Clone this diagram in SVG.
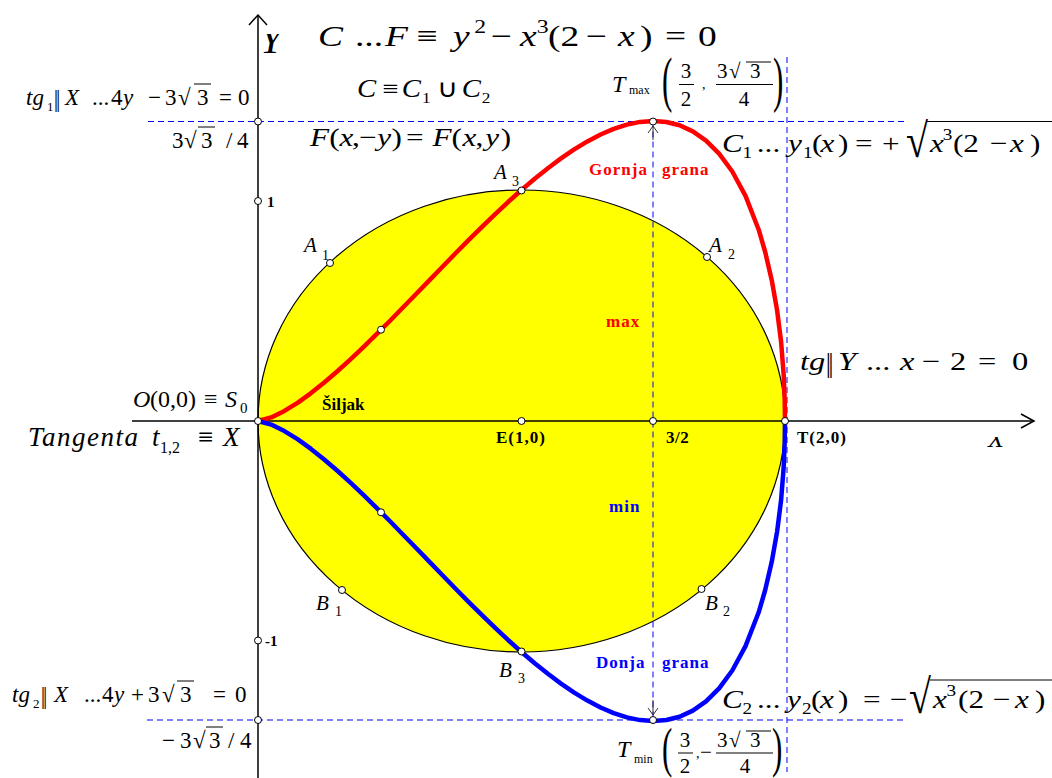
<svg xmlns="http://www.w3.org/2000/svg" width="1052" height="778" viewBox="0 0 1052 778">
<defs>
<style>
.s{font-family:"Liberation Serif","Times New Roman",serif;fill:#000}
.i{font-style:italic}
.b{font-family:"Liberation Serif","Times New Roman",serif;font-weight:bold}
.dash{stroke:#0000ff;stroke-width:1;stroke-dasharray:6 4;fill:none}
.dot{fill:#fff;stroke:#000;stroke-width:1}
.ax{stroke:#000;stroke-width:1.5;fill:none}
.vin{stroke:#000;stroke-width:1}
.arr{stroke:#333;stroke-width:1;fill:none}
</style>
<clipPath id="cy"><rect x="255" y="34" width="45" height="24"/></clipPath>
<clipPath id="cx"><rect x="980" y="437" width="50" height="10"/></clipPath>
</defs>
<rect width="1052" height="778" fill="#fff"/>

<g id="circle">
<ellipse cx="521.5" cy="421" rx="263.5" ry="231" fill="#ffff00" stroke="#000" stroke-width="1.2"/>
</g>

<g id="connectors">
<line class="dash" x1="148" y1="121.5" x2="907" y2="121.5"/>
<line class="dash" x1="147" y1="720" x2="907" y2="720"/>
<line class="dash" x1="653" y1="121.5" x2="653" y2="720"/>
<line class="dash" x1="787" y1="57" x2="787" y2="772"/>
<polyline class="arr" points="648,133 653,126 658,133"/>
<line class="arr" x1="653" y1="126" x2="653" y2="140"/>
<polyline class="arr" points="648,708 653,715 658,708"/>
<line class="arr" x1="653" y1="700" x2="653" y2="715"/>
</g>

<g id="axes">
<line class="ax" x1="132" y1="421" x2="1034" y2="421"/>
<polyline class="ax" points="1021,414 1034,421 1021,428"/>
<line class="ax" x1="258" y1="16" x2="258" y2="778"/>
<polyline class="ax" points="249,25 258,15 267,25"/>
<text class="s i" x="260" y="53" font-size="40" clip-path="url(#cy)">Y</text>
<text class="s i" x="988" y="447" font-size="26" clip-path="url(#cx)">X</text>
</g>

<g id="curve-upper">
<polyline fill="none" stroke="#ff0000" stroke-width="4.5" stroke-linejoin="round" points="258,421 271.2,417.4 284.4,410.9 297.5,402.8 310.7,393.3 323.9,382.8 337.1,371.5 350.2,359.6 363.4,347.1 376.6,334.2 389.8,321 402.9,307.5 416.1,294 429.3,280.4 442.5,266.8 455.6,253.3 468.8,239.9 482,226.9 495.2,214.1 508.3,201.8 521.5,190 534.7,178.8 547.9,168.2 561,158.4 574.2,149.4 587.4,141.4 600.6,134.5 613.7,128.9 626.9,124.6 640.1,121.9 653.3,120.9 666.4,122 679.6,125.3 692.8,131.4 706,140.6 719.1,153.6 732.3,171.5 745.5,195.9 758.7,229.7 765.2,252 771.8,280.4 777.1,310.4 781.1,341.9 783.7,375 784.7,400.4 785,421"/>
</g>
<g id="curve-lower">
<polyline fill="none" stroke="#0000ff" stroke-width="4.5" stroke-linejoin="round" points="258,421 271.2,424.6 284.4,431.1 297.5,439.2 310.7,448.7 323.9,459.2 337.1,470.5 350.2,482.4 363.4,494.9 376.6,507.8 389.8,521 402.9,534.5 416.1,548 429.3,561.6 442.5,575.2 455.6,588.7 468.8,602.1 482,615.1 495.2,627.9 508.3,640.2 521.5,652 534.7,663.2 547.9,673.8 561,683.6 574.2,692.6 587.4,700.6 600.6,707.5 613.7,713.1 626.9,717.4 640.1,720.1 653.3,721.1 666.4,720 679.6,716.7 692.8,710.6 706,701.4 719.1,688.4 732.3,670.5 745.5,646.1 758.7,612.3 765.2,590 771.8,561.6 777.1,531.6 781.1,500.1 783.7,467 784.7,441.6 785,421"/>
</g>

<g id="points">
<circle class="dot" cx="258" cy="121.5" r="3.5"/>
<circle class="dot" cx="258" cy="201" r="3.5"/>
<circle class="dot" cx="258" cy="640.5" r="3.5"/>
<circle class="dot" cx="258" cy="720" r="3.5"/>
<circle class="dot" cx="258" cy="421" r="3.5"/>
<circle class="dot" cx="521.5" cy="421" r="3.5"/>
<circle class="dot" cx="653" cy="421" r="3.5"/>
<circle class="dot" cx="785" cy="421" r="3.5"/>
<circle class="dot" cx="653" cy="121.5" r="3.5"/>
<circle class="dot" cx="653" cy="720" r="3.5"/>
<circle class="dot" cx="381" cy="329.7" r="3.5"/>
<circle class="dot" cx="381" cy="512.3" r="3.5"/>
<circle class="dot" cx="330" cy="263" r="3.5"/>
<circle class="dot" cx="707" cy="257" r="3.5"/>
<circle class="dot" cx="521.5" cy="190.5" r="3.5"/>
<circle class="dot" cx="342" cy="590" r="3.5"/>
<circle class="dot" cx="701.5" cy="589" r="3.5"/>
<circle class="dot" cx="521.5" cy="651.5" r="3.5"/>
</g>

<g id="title">
<text class="s" font-size="30" transform="translate(318,46) scale(1.25,1)"><tspan class="i" x="0" y="0">C</tspan><tspan x="29.6">...</tspan><tspan class="i" x="53.6">F</tspan><tspan x="79">≡</tspan><tspan class="i" x="108">y</tspan><tspan x="125" y="-13" font-size="19">2</tspan><tspan x="138.4" y="0">−</tspan><tspan class="i" x="161.6">x</tspan><tspan x="175" y="-13" font-size="19">3</tspan><tspan x="184" y="0">(2</tspan><tspan x="214.4">−</tspan><tspan class="i" x="240">x</tspan><tspan x="257.6">)</tspan><tspan x="277.6">=</tspan><tspan x="304">0</tspan></text>
</g>

<g id="union">
<text class="s" font-size="25" transform="translate(357,97) scale(1.15,1)"><tspan class="i" x="0" y="0">C</tspan><tspan x="22">≡</tspan><tspan class="i" x="39">C</tspan><tspan x="56.5" y="6" font-size="15">1</tspan><tspan x="70" y="0">∪</tspan><tspan class="i" x="91">C</tspan><tspan x="108.5" y="6" font-size="15">2</tspan></text>
</g>

<g id="symmetry">
<text class="s" font-size="26" transform="translate(310,146) scale(1.2,1)"><tspan class="i" x="0" y="0">F</tspan><tspan x="16">(</tspan><tspan class="i" x="24.5">x</tspan><tspan x="35">,</tspan><tspan x="41">−</tspan><tspan class="i" x="56">y</tspan><tspan x="68">)</tspan><tspan x="80">=</tspan><tspan class="i" x="102">F</tspan><tspan x="118">(</tspan><tspan class="i" x="127">x</tspan><tspan x="138">,</tspan><tspan class="i" x="146">y</tspan><tspan x="159">)</tspan></text>
</g>

<g id="tg1">
<text class="s" font-size="23" y="105"><tspan class="i" x="26">tg</tspan><tspan x="47" y="111" font-size="13">1</tspan><tspan class="i" x="65" y="105">X</tspan><tspan x="92">...</tspan><tspan x="111">4</tspan><tspan class="i" x="123">y</tspan><tspan x="148">−</tspan><tspan x="165">3</tspan><tspan x="178">√</tspan><tspan x="197">3</tspan><tspan x="219">=</tspan><tspan x="238">0</tspan></text>
<text class="s" font-size="22" transform="translate(54,112) scale(1,1.4)">‖</text>
<line class="vin" x1="194" y1="84" x2="211" y2="84"/>
<text class="s" font-size="23" y="148"><tspan x="172">3</tspan><tspan x="184">√</tspan><tspan x="201">3</tspan><tspan x="226">/</tspan><tspan x="237">4</tspan></text>
<line class="vin" x1="198" y1="127" x2="215" y2="127"/>
</g>

<g id="tg2">
<text class="s" font-size="23" y="702"><tspan class="i" x="12">tg</tspan><tspan x="33" y="708" font-size="13">2</tspan><tspan class="i" x="54" y="702">X</tspan><tspan x="84">...</tspan><tspan x="102">4</tspan><tspan class="i" x="114">y</tspan><tspan x="131">+</tspan><tspan x="148">3</tspan><tspan x="162">√</tspan><tspan x="180">3</tspan><tspan x="213">=</tspan><tspan x="235">0</tspan></text>
<text class="s" font-size="22" transform="translate(41,709) scale(1,1.4)">‖</text>
<line class="vin" x1="177" y1="681" x2="194" y2="681"/>
<text class="s" font-size="23" y="748"><tspan x="162">−</tspan><tspan x="180">3</tspan><tspan x="193">√</tspan><tspan x="209">3</tspan><tspan x="228">/</tspan><tspan x="240">4</tspan></text>
<line class="vin" x1="206" y1="727" x2="223" y2="727"/>
</g>

<g id="ticks">
<text class="b" x="267" y="207" font-size="15">1</text>
<text class="b" x="265" y="646" font-size="15">-1</text>
</g>

<g id="origin">
<text class="s" font-size="24" y="407"><tspan class="i" x="133">O</tspan><tspan x="150">(0,0)</tspan><tspan x="204">≡</tspan><tspan class="i" x="225">S</tspan><tspan x="240" y="413" font-size="15">0</tspan></text>
<text class="b" x="322" y="410" font-size="17">Šiljak</text>
</g>

<g id="tangent">
<text class="s i" font-size="27" y="446"><tspan x="28" textLength="110">Tangenta</tspan><tspan x="152">t</tspan><tspan x="160" y="453" font-size="16" font-style="normal">1,2</tspan><tspan x="198" y="446" font-style="normal">≡</tspan><tspan x="223">X</tspan></text>
</g>

<g id="xlabels">
<text class="b" x="496" y="443" font-size="17" letter-spacing="1">E(1,0)</text>
<text class="b" x="666" y="443" font-size="17" letter-spacing="0.5">3/2</text>
<text class="b" x="797" y="443" font-size="17" letter-spacing="1">T(2,0)</text>
</g>

<g id="A-points">
<text class="s i" font-size="21" y="252"><tspan x="304">A</tspan><tspan x="322" y="260" font-size="14" font-style="normal">1</tspan></text>
<text class="s i" font-size="21" y="179"><tspan x="494">A</tspan><tspan x="512" y="186" font-size="14" font-style="normal">3</tspan></text>
<text class="s i" font-size="21" y="252"><tspan x="709">A</tspan><tspan x="728" y="259" font-size="14" font-style="normal">2</tspan></text>
</g>

<g id="B-points">
<text class="s i" font-size="21" y="610"><tspan x="316">B</tspan><tspan x="335" y="616" font-size="14" font-style="normal">1</tspan></text>
<text class="s i" font-size="21" y="610"><tspan x="705">B</tspan><tspan x="723" y="616" font-size="14" font-style="normal">2</tspan></text>
<text class="s i" font-size="21" y="677"><tspan x="499">B</tspan><tspan x="518" y="683" font-size="14" font-style="normal">3</tspan></text>
</g>

<g id="branch-labels">
<text class="b" font-size="17" y="175" fill="#ff0000" letter-spacing="1"><tspan x="589">Gornja</tspan> <tspan x="662">grana</tspan></text>
<text class="b" x="606" y="327" font-size="17" fill="#ff0000" letter-spacing="1">max</text>
<text class="b" x="609" y="512" font-size="17" fill="#0000ff" letter-spacing="1">min</text>
<text class="b" font-size="17" y="668" fill="#0000ff" letter-spacing="1"><tspan x="596">Donja</tspan> <tspan x="662">grana</tspan></text>
</g>

<g id="tmax">
<text class="s i" x="612" y="92" font-size="24">T</text>
<text class="s" x="629" y="94" font-size="12">max</text>
<text class="s" font-size="62" transform="translate(662,100) scale(0.5,1)">(</text>
<text class="s" x="686" y="78" font-size="21" text-anchor="middle">3</text>
<line class="vin" x1="679" y1="84.5" x2="694" y2="84.5"/>
<text class="s" x="686" y="106" font-size="21" text-anchor="middle">2</text>
<text class="s" x="702" y="89" font-size="14">,</text>
<text class="s" font-size="21" y="78"><tspan x="717">3</tspan><tspan x="729">√</tspan><tspan x="750">3</tspan></text>
<line class="vin" x1="746" y1="62" x2="771" y2="62"/>
<line class="vin" x1="716" y1="84.5" x2="773" y2="84.5"/>
<text class="s" x="744" y="106" font-size="21" text-anchor="middle">4</text>
<text class="s" font-size="62" transform="translate(773,100) scale(0.5,1)">)</text>
</g>

<g id="tmin">
<text class="s i" x="617" y="757" font-size="24">T</text>
<text class="s" x="634" y="763" font-size="12">min</text>
<text class="s" font-size="62" transform="translate(662,766) scale(0.5,0.9)">(</text>
<text class="s" x="685" y="747" font-size="21" text-anchor="middle">3</text>
<line class="vin" x1="678" y1="753" x2="693" y2="753"/>
<text class="s" x="685" y="773" font-size="21" text-anchor="middle">2</text>
<text class="s" x="696" y="758" font-size="14">,</text>
<text class="s" x="700" y="759" font-size="21">−</text>
<text class="s" font-size="21" y="747"><tspan x="717">3</tspan><tspan x="729">√</tspan><tspan x="750">3</tspan></text>
<line class="vin" x1="746" y1="731" x2="771" y2="731"/>
<line class="vin" x1="716" y1="753" x2="773" y2="753"/>
<text class="s" x="745" y="773" font-size="21" text-anchor="middle">4</text>
<text class="s" font-size="62" transform="translate(772,766) scale(0.5,0.9)">)</text>
</g>

<g id="c1-eq">
<text class="s" font-size="26" transform="translate(722,152) scale(1.2,1)"><tspan class="i" x="0" y="0">C</tspan><tspan x="17" y="6" font-size="16">1</tspan><tspan x="29" y="0">...</tspan><tspan class="i" x="55">y</tspan><tspan x="67.5" y="6" font-size="16">1</tspan><tspan x="75" y="0">(</tspan><tspan class="i" x="82">x</tspan><tspan x="96.7">)</tspan><tspan x="110.8">=</tspan><tspan x="133.3">+</tspan><tspan class="i" x="173.3">x</tspan><tspan x="184" y="-12" font-size="16">3</tspan><tspan x="192.5" y="0">(2</tspan><tspan x="223.3">−</tspan><tspan class="i" x="240">x</tspan><tspan x="256.7">)</tspan></text>
<text class="s" font-size="40" transform="translate(906,157) scale(1,1.2)">√</text>
<line class="vin" x1="927" y1="121.5" x2="1052" y2="121.5"/>
</g>

<g id="c2-eq">
<text class="s" font-size="26" transform="translate(722,708) scale(1.2,1)"><tspan class="i" x="0" y="0">C</tspan><tspan x="17" y="6" font-size="16">2</tspan><tspan x="29.2" y="0">...</tspan><tspan class="i" x="54.2">y</tspan><tspan x="66.7" y="6" font-size="16">2</tspan><tspan x="74.2" y="0">(</tspan><tspan class="i" x="81.7">x</tspan><tspan x="96.7">)</tspan><tspan x="117.5">=</tspan><tspan x="140">−</tspan><tspan class="i" x="175.8">x</tspan><tspan x="187" y="-12" font-size="16">3</tspan><tspan x="196.7" y="0">(2</tspan><tspan x="225.8">−</tspan><tspan class="i" x="244.2">x</tspan><tspan x="260.8">)</tspan></text>
<text class="s" font-size="40" transform="translate(909,713) scale(1,1.2)">√</text>
<line class="vin" x1="930" y1="680" x2="1052" y2="680"/>
</g>

<g id="tgy">
<text class="s" font-size="26" transform="translate(800,370) scale(1.25,1)"><tspan class="i" x="0" y="0">tg</tspan><tspan class="i" x="30.4">Y</tspan><tspan x="52.8">...</tspan><tspan class="i" x="80">x</tspan><tspan x="97.6">−</tspan><tspan x="120">2</tspan><tspan x="142.4">=</tspan><tspan x="169.6">0</tspan></text>
<text class="s" font-size="26" transform="translate(826,378) scale(1,1.35)">‖</text>
</g>
</svg>
